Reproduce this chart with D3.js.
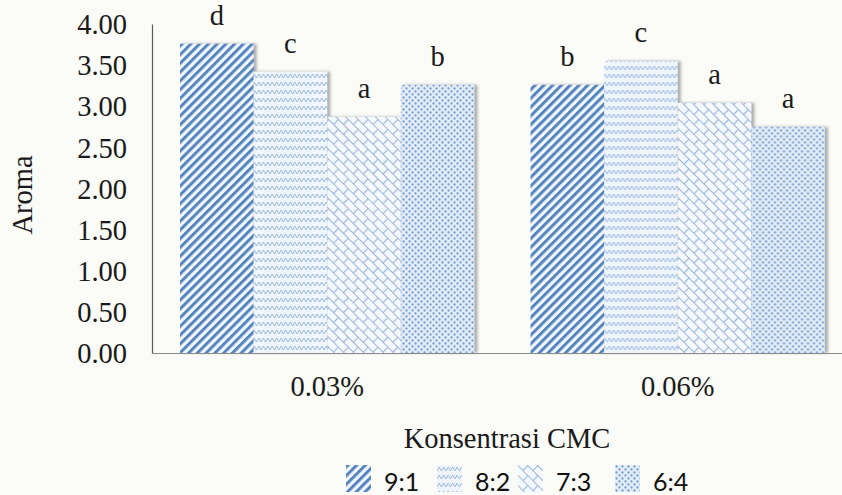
<!DOCTYPE html>
<html>
<head>
<meta charset="utf-8">
<script src="https://cdn.jsdelivr.net/npm/d3@7/dist/d3.min.js"></script>
<style>
  html, body { margin: 0; padding: 0; background: #fbfbf8; }
  svg { display: block; }
  .serif { font-family: "Liberation Serif", "Times New Roman", serif; fill: #1a1a1a; }
  .legend-text { font-family: Lato, "Open Sans", sans-serif; fill: #111; }
</style>
</head>
<body>
<script>
// Aroma scores by CMC concentration and ratio
const concentrations = ["0.03%", "0.06%"];
const ratios = ["9:1", "8:2", "7:3", "6:4"];
const aroma903 = [3.76, 3.42, 2.87, 3.26];   // 0.03%
const aroma906 = [3.26, 3.55, 3.04, 2.75];   // 0.06%
const letters903 = ["d", "c", "a", "b"];
const letters906 = ["b", "c", "a", "a"];
const yTicks = [0, 0.5, 1, 1.5, 2, 2.5, 3, 3.5, 4];

const values = [aroma903, aroma906];
const letters = [letters903, letters906];

const W = 842, H = 495;
const FS = "28.5px";
const svg = d3.select("body").append("svg").attr("width", W).attr("height", H);

const defs = svg.append("defs");

// 9:1 diagonal stripes
const p1 = defs.append("pattern").attr("id", "pat91").attr("patternUnits", "userSpaceOnUse")
  .attr("width", 6.2).attr("height", 6.2).attr("patternTransform", "rotate(45)");
p1.append("rect").attr("width", 6.2).attr("height", 6.2).attr("fill", "#f4f8fc");
p1.append("rect").attr("width", 3).attr("height", 6.2).attr("fill", "#5585c0");

// 8:2 wavy lines
const p2 = defs.append("pattern").attr("id", "pat82").attr("patternUnits", "userSpaceOnUse")
  .attr("width", 9).attr("height", 8);
p2.append("rect").attr("width", 9).attr("height", 8).attr("fill", "#f0f5fb");
p2.append("path").attr("d", "M0,6 L2.25,2 L4.5,6 L6.75,2 L9,6")
  .attr("fill", "none").attr("stroke", "#98b8dd").attr("stroke-width", 1)
  .attr("stroke-linejoin", "round");

// 7:3 diagonal brick
const p3 = defs.append("pattern").attr("id", "pat73").attr("patternUnits", "userSpaceOnUse")
  .attr("width", 14).attr("height", 14).attr("patternTransform", "rotate(45)");
p3.append("rect").attr("width", 14).attr("height", 14).attr("fill", "#f5f8fc");
p3.append("path").attr("d", "M0,0.5 H14 M0,7.5 H14 M0.5,0 V7 M7.5,7 V14")
  .attr("fill", "none").attr("stroke", "#9ab8dc").attr("stroke-width", 1.2);

// 6:4 dotted grain
const p4 = defs.append("pattern").attr("id", "pat64").attr("patternUnits", "userSpaceOnUse")
  .attr("width", 6).attr("height", 6);
p4.append("rect").attr("width", 6).attr("height", 6).attr("fill", "#e3ecf7");
p4.append("circle").attr("cx", 1.5).attr("cy", 1.5).attr("r", 1.15).attr("fill", "#729ed2");
p4.append("circle").attr("cx", 4.5).attr("cy", 4.5).attr("r", 1.15).attr("fill", "#729ed2");

const fills = ["url(#pat91)", "url(#pat82)", "url(#pat73)", "url(#pat64)"];

const shadow = defs.append("filter").attr("id", "barShadow")
  .attr("x", "-10%").attr("y", "-5%").attr("width", "130%").attr("height", "110%");
shadow.append("feDropShadow").attr("dx", 3).attr("dy", 0).attr("stdDeviation", 1.4)
  .attr("flood-color", "#777").attr("flood-opacity", 0.6);

// Scales
const y = d3.scaleLinear().domain([0, 4]).range([353, 24]);
const x0 = d3.scaleBand().domain(concentrations).range([152, 853])
  .paddingInner(0.16).paddingOuter(0.08);
const x1 = d3.scaleBand().domain(ratios).range([0, x0.bandwidth()]);

// Y axis: tick labels only, plus a plain line
const yAxis = d3.axisLeft(y).tickValues(yTicks).tickFormat(d3.format(".2f")).tickSize(0).tickPadding(25);
const gy = svg.append("g").attr("transform", "translate(152,0)").call(yAxis);
gy.select(".domain").attr("stroke", "#5a5a5a").attr("stroke-width", 1.2);
gy.selectAll("text").attr("class", "serif").style("font-size", FS).attr("dy", "0.34em");

// Bars
const groups = svg.append("g").selectAll("g").data(concentrations).join("g")
  .attr("transform", d => `translate(${x0(d)},0)`);

groups.selectAll("rect").data((c, gi) => ratios.map((r, i) => ({ r, i, v: values[gi][i] })))
  .join("rect")
  .attr("x", d => x1(d.r))
  .attr("y", d => y(d.v))
  .attr("width", x1.bandwidth())
  .attr("height", d => y(0) - y(d.v))
  .attr("fill", d => fills[d.i])
  .attr("filter", "url(#barShadow)");

groups.selectAll("text.sig").data((c, gi) => ratios.map((r, i) => ({ r, v: values[gi][i], l: letters[gi][i] })))
  .join("text")
  .attr("class", "serif sig")
  .attr("x", d => x1(d.r) + x1.bandwidth() / 2)
  .attr("y", d => y(d.v) - 19)
  .attr("text-anchor", "middle")
  .style("font-size", FS)
  .text(d => d.l);

// X axis
const xAxis = d3.axisBottom(x0).tickSize(0).tickPadding(23);
const gx = svg.append("g").attr("transform", "translate(0,353)").call(xAxis);
gx.select(".domain").attr("stroke", "#8a8a8a").attr("stroke-width", 1.2);
gx.selectAll("text").attr("class", "serif").style("font-size", FS);

// Axis titles
svg.append("text").attr("class", "serif")
  .attr("transform", "translate(32,195) rotate(-90)")
  .attr("text-anchor", "middle").style("font-size", FS).text("Aroma");

svg.append("text").attr("class", "serif")
  .attr("x", 507).attr("y", 448).attr("text-anchor", "middle")
  .style("font-size", FS).text("Konsentrasi CMC");

// Legend
const legendX = [346, 437, 518, 615];
const leg = svg.append("g").selectAll("g").data(ratios).join("g")
  .attr("transform", (d, i) => `translate(${legendX[i]},465)`);
leg.append("rect").attr("width", 25).attr("height", 27).attr("fill", (d, i) => fills[i]);
leg.append("text").attr("class", "legend-text").attr("x", 38).attr("y", 26)
  .style("font-size", "25px").text(d => d);
</script>
</body>
</html>
